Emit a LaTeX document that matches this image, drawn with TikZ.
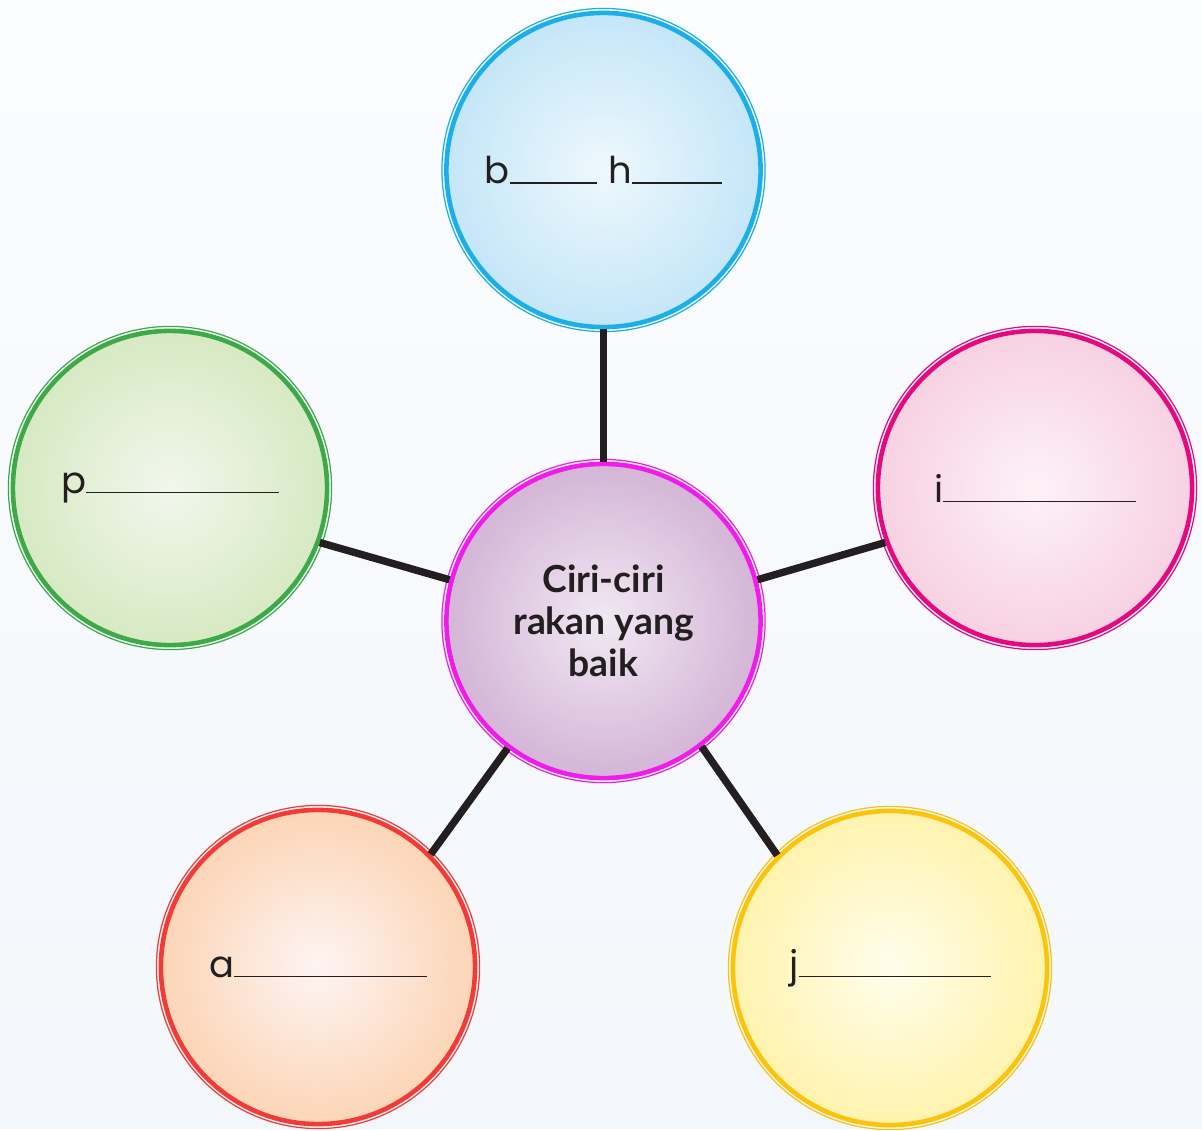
\documentclass[tikz,border=0pt]{standalone}
\usepackage{fontspec}
\setmainfont{Poppins}
\newfontfamily\titlefont{Lato}
\definecolor{bgtop}{HTML}{FBFCFE}
\definecolor{bgbot}{HTML}{F3F7FB}
\definecolor{ink}{HTML}{231F20}
\definecolor{skyring}{HTML}{1AAEEA}
\definecolor{skyin}{HTML}{EEF8FD}
\definecolor{skyout}{HTML}{C4E6F8}
\definecolor{grnring}{HTML}{3DAA48}
\definecolor{grnin}{HTML}{F1F7EC}
\definecolor{grnout}{HTML}{D7E9C3}
\definecolor{pnkring}{HTML}{E5097F}
\definecolor{pnkin}{HTML}{FDF2F7}
\definecolor{pnkout}{HTML}{F7D1E2}
\definecolor{redring}{HTML}{F23B36}
\definecolor{redin}{HTML}{FDF4F3}
\definecolor{redout}{HTML}{FCD5B6}
\definecolor{ylwring}{HTML}{FCC30B}
\definecolor{ylwin}{HTML}{FFFDEC}
\definecolor{ylwout}{HTML}{FFF3AE}
\definecolor{purring}{HTML}{F01CEC}
\definecolor{purin}{HTML}{F1E8F3}
\definecolor{purout}{HTML}{D4B5D6}
\newcommand{\blank}[1]{\rule{#1}{0.35pt}}
\tikzset{
  bubble/.style n args={3}{circle,draw=#1,line width=1.3pt,minimum size=3.14cm,
    inner sep=0pt,shading=radial,inner color=#2,outer color=#3,
    font=\fontsize{10.5}{12}\selectfont,text=ink},
  halo/.style={draw=#1,line width=0.35pt},
  spoke/.style={draw=ink,line width=2.1pt}
}
\begin{document}
\begin{tikzpicture}[x=0.01cm,y=-0.01cm]
\path[top color=bgtop,bottom color=bgbot] (0,0) rectangle (1202,1128);
\node[bubble={skyring}{skyin}{skyout}] (bh) at (603.5,170) {b\blank{0.87cm}\hspace{0.12cm}h\blank{0.9cm}};
\node[bubble={grnring}{grnin}{grnout}] (p) at (170,488) {p\blank{1.92cm}};
\node[bubble={pnkring}{pnkin}{pnkout}] (i) at (1035,488) {i\blank{1.92cm}};
\node[bubble={redring}{redin}{redout}] (a) at (318,967) {a\blank{1.92cm}};
\node[bubble={ylwring}{ylwin}{ylwout}] (j) at (890,968) {j\blank{1.92cm}};
\node[bubble={purring}{purin}{purout},align=center,font=\titlefont\fontsize{10.6}{12}\selectfont\bfseries] (ciri) at (603.5,621) {Ciri-ciri\\rakan yang\\baik};
% outer thin rings
\foreach \n/\c in {bh/skyring,p/grnring,i/pnkring,a/redring,j/ylwring,ciri/purring}
  \draw[halo=\c] (\n.center) circle[radius=1.615cm];
\draw[spoke] (ciri.north) -- (bh.south);
\draw[spoke] (ciri.165) -- (p.-20);
\draw[spoke] (ciri.15) -- (i.200);
\draw[spoke] (ciri.233) -- (a.45);
\draw[spoke] (ciri.-52) -- (j.135);
\end{tikzpicture}
\end{document}
